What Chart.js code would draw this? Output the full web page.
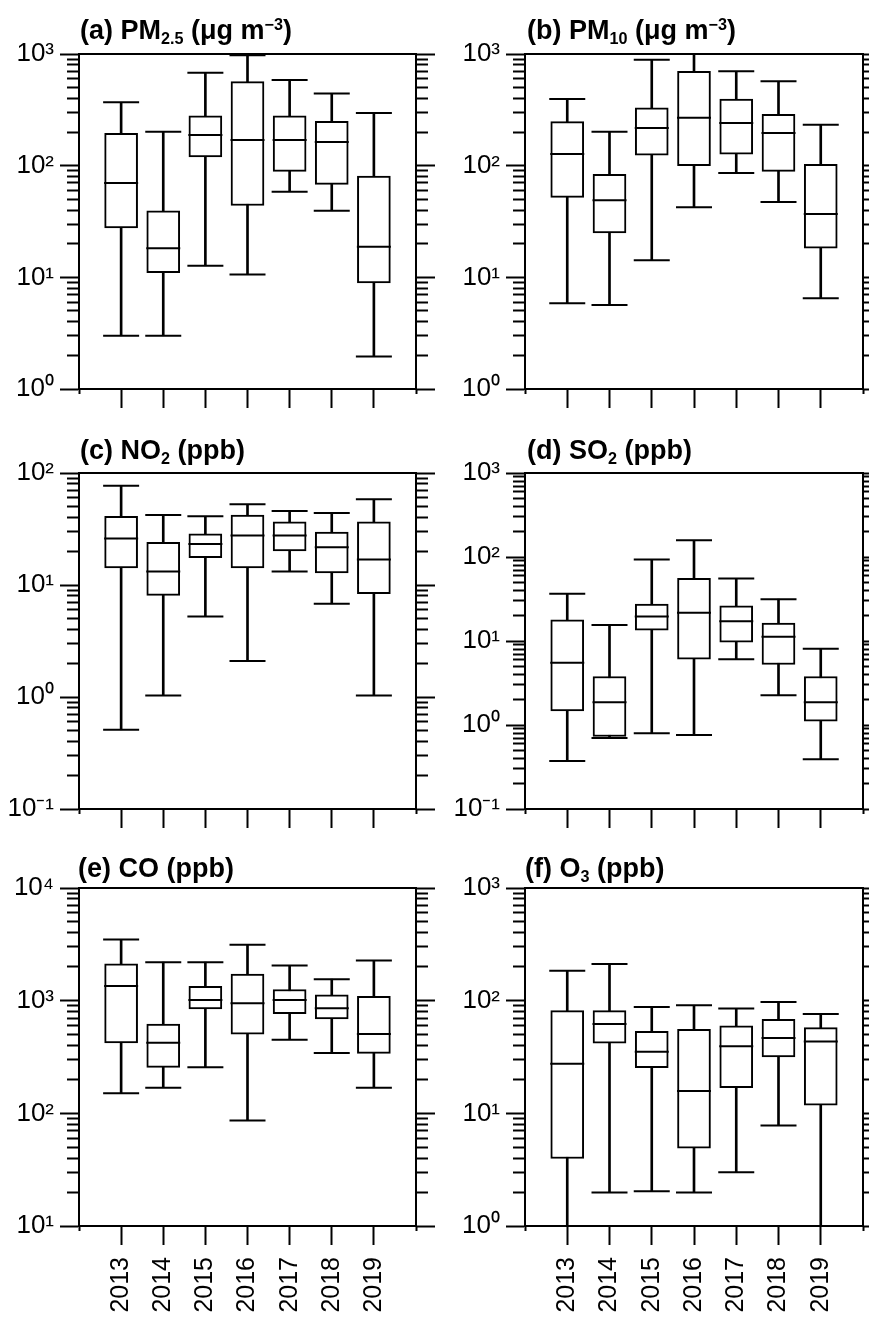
<!DOCTYPE html>
<html>
<head>
<meta charset="utf-8">
<script src="https://cdn.jsdelivr.net/npm/chart.js@4/dist/chart.umd.min.js"></script>
<style>
  html, body { margin: 0; padding: 0; background: #fff; overflow: hidden; }
  #figure { position: relative; width: 869px; height: 1318px; overflow: hidden; }
  canvas { position: absolute; }
  .title {
    position: absolute;
    font: bold 27px "Liberation Sans", Arial, sans-serif;
    line-height: 27px;
    white-space: nowrap;
    color: #000;
  }
  .title .sub { font-size: 0.6em; position: relative; top: 0.3em; }
  .title .sup { font-size: 0.6em; position: relative; top: -0.55em; }
</style>
</head>
<body>
<div id="figure">
<canvas id="pa" width="440" height="420" style="left:0;top:0"></canvas>
<canvas id="pb" width="440" height="420" style="left:446px;top:0"></canvas>
<canvas id="pc" width="440" height="420" style="left:0;top:420px"></canvas>
<canvas id="pd" width="440" height="420" style="left:446px;top:420px"></canvas>
<canvas id="pe" width="440" height="478" style="left:0;top:840px"></canvas>
<canvas id="pf" width="440" height="478" style="left:446px;top:840px"></canvas>

<div class="title" style="left:80px;top:17px">(a) PM<span class="sub">2.5</span> (μg m<span class="sup">−3</span>)</div>
<div class="title" style="left:527px;top:17px">(b) PM<span class="sub">10</span> (μg m<span class="sup">−3</span>)</div>
<div class="title" style="left:80px;top:437px">(c) NO<span class="sub">2</span> (ppb)</div>
<div class="title" style="left:527px;top:437px">(d) SO<span class="sub">2</span> (ppb)</div>
<div class="title" style="left:78px;top:855px">(e) CO (ppb)</div>
<div class="title" style="left:525px;top:855px">(f) O<span class="sub">3</span> (ppb)</div>
</div>

<script>
const YEARS = ['2013', '2014', '2015', '2016', '2017', '2018', '2019'];

// Five-number summary per year: [min, q1, median, q3, max]
const PM25 = [
    [3.0, 27.7, 70, 195, 369],
    [3.0, 11.0, 18.2, 39.5, 201],
    [12.7, 120, 188, 279, 681],
    [10.6, 44, 170, 565, 973],
    [58.5, 89, 170, 279, 585],
    [39.5, 68, 163, 250, 442],
    [1.95, 8.9, 18.8, 80.7, 296],
];
const PM10 = [
    [5.85, 52, 127, 248, 395],
    [5.65, 25, 49, 83.6, 201],
    [14.2, 124, 217, 330, 890],
    [42.4, 100, 269, 700, 1000],
    [86, 127, 241, 395, 700],
    [47.3, 89, 196, 288, 569],
    [6.5, 18.2, 36.9, 103, 233],
];
const NO2 = [
    [0.51, 14.2, 26, 41, 77],
    [1.03, 8.07, 13.2, 24, 42.2],
    [5.24, 17.5, 23.2, 28.7, 41],
    [2.1, 14.2, 27.7, 42.2, 52.5],
    [13.2, 20.1, 27.7, 36.7, 45.7],
    [6.8, 12.8, 21.7, 29.7, 44],
    [1.03, 8.35, 16.9, 36.7, 58.2],
];
const SO2 = [
    [0.373, 1.47, 5.5, 17.9, 36.5],
    [0.70, 0.73, 1.87, 3.78, 15.5],
    [0.80, 13.5, 19.6, 27.5, 93.6],
    [0.76, 6.08, 21.7, 55.6, 158],
    [6.08, 9.7, 17.2, 26.2, 55.6],
    [2.26, 5.25, 11.2, 16.3, 31.5],
    [0.39, 1.11, 1.87, 3.78, 8.07],
];
const CO = [
    [151, 421, 1352, 2123, 3490],
    [169, 256, 424, 621, 2198],
    [256, 845, 1016, 1343, 2198],
    [86.5, 503, 949, 1718, 3133],
    [451, 768, 1016, 1256, 2051],
    [343, 689, 857, 1125, 1552],
    [169, 341, 506, 1094, 2274],
];
const O3 = [
    [0.9, 3.97, 27.6, 81.6, 184],
    [1.98, 42, 62, 81.6, 212],
    [2.03, 25.4, 35.2, 53.5, 88],
    [1.98, 4.9, 15.8, 55.7, 91],
    [3.0, 16.9, 39.4, 59.7, 85],
    [7.8, 31.6, 46.7, 68.4, 97.5],
    [0.9, 11.8, 43.5, 57.7, 76.2],
];

// Decade labels on the y axes, bottom to top
const TICKS_E0_E3 = ['10⁰', '10¹', '10²', '10³'];
const TICKS_EM1_E2 = ['10⁻¹', '10⁰', '10¹', '10²'];
const TICKS_EM1_E3 = ['10⁻¹', '10⁰', '10¹', '10²', '10³'];
const TICKS_E1_E4 = ['10¹', '10²', '10³', '10⁴'];

const FONT = '"Liberation Sans", Arial, sans-serif';
const INK = '#000';

const PANELS = [
    { id: 'pa', data: PM25, ticks: TICKS_E0_E3, yMin: 1, padTop: 54, rightW: 24, bottomH: 31, years: false },
    { id: 'pb', data: PM10, ticks: TICKS_E0_E3, yMin: 1, padTop: 54, rightW: 23, bottomH: 31, years: false },
    { id: 'pc', data: NO2, ticks: TICKS_EM1_E2, yMin: 0.1, padTop: 53, rightW: 24, bottomH: 31, years: false },
    { id: 'pd', data: SO2, ticks: TICKS_EM1_E3, yMin: 0.1, padTop: 53, rightW: 23, bottomH: 31, years: false },
    { id: 'pe', data: CO, ticks: TICKS_E1_E4, yMin: 10, padTop: 48, rightW: 24, bottomH: 92, years: true },
    { id: 'pf', data: O3, ticks: TICKS_E0_E3, yMin: 1, padTop: 48, rightW: 23, bottomH: 92, years: true },
];

function drawPanel(p) {
    // empty slots either side give the 2012 / 2020 frame edges
    const labels = ['', ...YEARS, ''];
    const col = (k) => [null, ...p.data.map((r) => r[k]), null];
    const range = (a, b) => [null, ...p.data.map((r) => [r[a], r[b]]), null];

    const majors = p.ticks.map((_, i) => p.yMin * Math.pow(10, i));
    const yMax = majors[majors.length - 1];
    const tickValues = [];
    for (let i = 0; i < majors.length - 1; i++) {
        for (let m = 1; m < 10; m++) tickValues.push(m * majors[i]);
    }
    tickValues.push(yMax);

    const majorIndex = (v) => majors.findIndex((m) => Math.abs(v / m - 1) < 1e-6);
    const setTicks = (scale) => {
        scale.ticks = tickValues.map((v) => ({ value: v, major: majorIndex(v) >= 0 }));
    };

    const edgeTick = (ctx) => (ctx.index === 0 || ctx.index === labels.length - 1);
    const capStyle = (radius) => ({
        type: 'line',
        showLine: false,
        pointStyle: 'line',
        pointRadius: radius,
        pointBorderWidth: 2,
        pointBorderColor: INK,
        borderColor: INK,
        clip: 0,
        order: 0,
    });

    new Chart(document.getElementById(p.id), {
        type: 'bar',
        data: {
            labels,
            datasets: [
                { ...capStyle(17), label: 'median', data: col(2) },
                { ...capStyle(18), label: 'min', data: col(0) },
                { ...capStyle(18), label: 'max', data: col(4) },
                {
                    label: 'box', data: range(1, 3),
                    backgroundColor: '#fff', borderColor: INK, borderWidth: 2, borderSkipped: false,
                    barThickness: 33, grouped: false, clip: 0, order: 1,
                },
                {
                    label: 'whisker', data: range(0, 4),
                    backgroundColor: INK, borderWidth: 0,
                    barThickness: 2, grouped: false, clip: 0, order: 2,
                },
            ],
        },
        options: {
            responsive: false,
            devicePixelRatio: 1,
            animation: false,
            events: [],
            layout: { padding: { top: p.padTop, left: 0, right: 0, bottom: 0 } },
            plugins: { legend: { display: false }, tooltip: { enabled: false } },
            scales: {
                x: {
                    type: 'category',
                    position: 'bottom',
                    offset: false,
                    afterFit: (s) => {
                        s.height = p.bottomH;
                        s.paddingLeft = 0;
                        s.paddingRight = 0;
                    },
                    ticks: {
                        display: p.years, autoSkip: false, minRotation: 90, maxRotation: 90,
                        padding: 12, color: INK, font: { family: FONT, size: 25 },
                    },
                    grid: {
                        drawOnChartArea: false, offset: false, tickLength: 19, tickWidth: 2, tickColor: INK,
                        // the 2012 / 2020 slots only get a short stub
                        tickBorderDash: (ctx) => (edgeTick(ctx) ? [4, 100] : []),
                    },
                    border: { color: INK, width: 2 },
                },
                xt: {
                    type: 'category',
                    position: 'top',
                    offset: false,
                    afterFit: (s) => { s.height = 0; },
                    ticks: { display: false },
                    grid: { drawOnChartArea: false, drawTicks: false },
                    border: { color: INK, width: 2 },
                },
                y: {
                    type: 'logarithmic',
                    position: 'left',
                    min: p.yMin,
                    max: yMax,
                    afterBuildTicks: setTicks,
                    afterFit: (s) => { s.width = 79; },
                    ticks: {
                        autoSkip: false, padding: 6, color: INK,
                        font: { family: FONT, size: 26 },
                        callback: (v) => {
                            const i = majorIndex(v);
                            return i >= 0 ? p.ticks[i] : '';
                        },
                    },
                    grid: {
                        drawOnChartArea: false, tickLength: 19, tickWidth: 2, tickColor: INK,
                        // minor ticks only show their inner 12px
                        tickBorderDash: (ctx) => (majorIndex(ctx.tick.value) >= 0 ? [] : [0, 7, 100, 0]),
                    },
                    border: { color: INK, width: 2 },
                },
                y2: {
                    type: 'logarithmic',
                    position: 'right',
                    min: p.yMin,
                    max: yMax,
                    afterBuildTicks: setTicks,
                    afterFit: (s) => { s.width = p.rightW; },
                    ticks: { autoSkip: false, padding: 0, callback: () => '' },
                    grid: {
                        drawOnChartArea: false, tickLength: 19, tickWidth: 2, tickColor: INK,
                        tickBorderDash: (ctx) => (majorIndex(ctx.tick.value) >= 0 ? [] : [11, 100]),
                    },
                    border: { color: INK, width: 2 },
                },
            },
        },
    });
}

PANELS.forEach(drawPanel);
</script>
</body>
</html>
